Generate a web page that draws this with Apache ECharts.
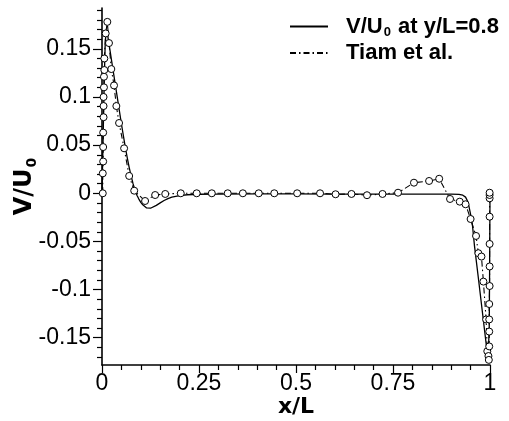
<!DOCTYPE html>
<html>
<head>
<meta charset="utf-8">
<script src="https://cdn.jsdelivr.net/npm/echarts@6/dist/echarts.min.js"></script>
<style>
  html, body { margin: 0; padding: 0; background: #fff; }
  #chart { width: 509px; height: 421px; }
</style>
</head>
<body>
<div id="chart"></div>
<script>
// Present computation: vertical velocity V/U0 along the line y/L = 0.8
const simX = [0, 0.002, 0.004, 0.006, 0.008, 0.010, 0.012, 0.015, 0.020, 0.025, 0.030, 0.035, 0.040,
  0.045, 0.050, 0.055, 0.060, 0.065, 0.070, 0.075, 0.080, 0.085, 0.090, 0.095, 0.100, 0.105, 0.110,
  0.115, 0.120, 0.125, 0.130, 0.140, 0.150, 0.160, 0.170, 0.180, 0.200, 0.220, 0.250, 0.300, 0.400,
  0.500, 0.600, 0.700, 0.800, 0.900, 0.920, 0.930, 0.937, 0.942, 0.946, 0.950, 0.955, 0.960, 0.970,
  0.980, 0.990, 0.993, 0.995, 0.997, 0.998, 0.999, 1.000];
const simV = [0, 0.040, 0.080, 0.120, 0.152, 0.166, 0.169, 0.163, 0.150, 0.137, 0.124, 0.111, 0.098,
  0.085, 0.072, 0.060, 0.048, 0.037, 0.027, 0.018, 0.010, 0.003, -0.002, -0.006, -0.0095, -0.012, -0.014,
  -0.0152, -0.0157, -0.0155, -0.0148, -0.0125, -0.010, -0.0075, -0.0055, -0.004, -0.0025, -0.0015, -0.001, -0.0008, -0.0007,
  -0.0007, -0.0008, -0.0008, -0.0008, -0.0009, -0.0012, -0.002, -0.004, -0.008, -0.014, -0.022, -0.034, -0.0546, -0.088,
  -0.122, -0.156, -0.166, -0.172, -0.170, -0.140, -0.080, 0];

// Reference data of Tiam et al.
const tiamX = [0.002, 0.002, 0.003, 0.003, 0.003, 0.004, 0.004, 0.004, 0.005, 0.005, 0.006, 0.006, 0.0095,
  0.0137, 0.018, 0.024, 0.031, 0.037, 0.044, 0.057, 0.070, 0.083, 0.111, 0.137, 0.163, 0.203, 0.244,
  0.283, 0.324, 0.363, 0.404, 0.444, 0.503, 0.562, 0.602, 0.643, 0.683, 0.723, 0.763, 0.804, 0.843,
  0.869, 0.897, 0.922, 0.937, 0.950, 0.964, 0.970, 0.978, 0.983, 0.990, 0.993, 0.996, 0.997, 0.998,
  0.998, 0.998, 0.998, 0.999, 0.999, 0.999, 0.999, 0.999, 0.999, 0.999];
const tiamV = [0, 0.0207, 0.033, 0.048, 0.063, 0.079, 0.0906, 0.100, 0.110, 0.121, 0.128, 0.140, 0.166,
  0.178, 0.156, 0.129, 0.112, 0.0906, 0.073, 0.0467, 0.018, 0.0027, -0.008, -0.0018, -0.0007, 0, 0,
  0, 0, 0, 0, 0, 0, 0, -0.001, -0.0007, -0.002, -0.0007, 0.0006, 0.011, 0.0128,
  0.0151, -0.0059, -0.0087, -0.0114, -0.0267, -0.0443, -0.0622, -0.0657, -0.0917, -0.131, -0.164, -0.169, -0.173, -0.159,
  -0.1436, -0.131, -0.115, -0.0963, -0.076, -0.0526, -0.0243, -0.0052, -0.0018, 0.0006];

// Axis ticks
const xTicks = [0, 0.25, 0.5, 0.75, 1];
const xTickLabels = ['0', '0.25', '0.5', '0.75', '1'];
const yTicks = [-0.15, -0.1, -0.05, 0, 0.05, 0.1, 0.15];
const yTickLabels = ['-0.15', '-0.1', '-0.05', '0', '0.05', '0.1', '0.15'];
const yMinorTicks = [-0.17, -0.16, -0.14, -0.13, -0.12, -0.11, -0.09, -0.08, -0.07, -0.06, -0.04, -0.03,
  -0.02, -0.01, 0.01, 0.02, 0.03, 0.04, 0.06, 0.07, 0.08, 0.09, 0.11, 0.12, 0.13, 0.14, 0.16, 0.17, 0.18, 0.19];

const seriesNames = ['sim', 'tiam'];

const pairs = (xs, vs) => xs.map((x, i) => [x, vs[i]]);
const labelFor = (ticks, labels) => (v) => {
  const i = ticks.findIndex(t => Math.abs(t - v) < 1e-9);
  return i >= 0 ? labels[i] : '';
};

const tickFont = 'Liberation Sans, Arial, Helvetica, sans-serif';
const titleFont = 'DejaVu Sans, sans-serif';
const yRange = { min: -0.1783, max: 0.1924 };

const chart = echarts.init(document.getElementById('chart'), null, { renderer: 'canvas' });
chart.setOption({
  animation: false,
  backgroundColor: '#fff',
  grid: { left: 102, right: 19, top: 8, bottom: 56, containLabel: false, outerBoundsMode: 'none' },
  legend: {
    orient: 'vertical',
    left: 289,
    top: 14,
    padding: 0,
    itemGap: 3,
    itemWidth: 38,
    itemHeight: 14,
    selectedMode: false,
    data: [
      { name: 'sim', itemStyle: { opacity: 0 } },
      { name: 'tiam', itemStyle: { opacity: 0 } }
    ],
    formatter: (name) => name === 'sim'
      ? '{a|V/U}{s|0}{a| at y/L=0.8}'
      : '{a|Tiam et al.}',
    textStyle: {
      padding: [0, 0, 0, 13],
      rich: {
        a: { fontFamily: tickFont, fontWeight: 'bold', fontSize: 22, color: '#000', lineHeight: 22 },
        s: { fontFamily: tickFont, fontWeight: 'bold', fontSize: 13, color: '#000', lineHeight: 22, padding: [12, 1, 0, 1] }
      }
    }
  },
  xAxis: {
    type: 'value',
    min: 0, max: 1, interval: 0.25,
    name: 'x/L',
    nameLocation: 'middle',
    nameGap: 31,
    nameMoveOverlap: false,
    nameTextStyle: { fontFamily: titleFont, fontWeight: 'bold', fontSize: 22, color: '#000' },
    axisLine: { show: true, onZero: false, lineStyle: { color: '#000', width: 1.6 } },
    axisTick: { show: true, length: 8, lineStyle: { color: '#000', width: 1.2 } },
    minorTick: { show: true, splitNumber: 5, length: 5, lineStyle: { color: '#000', width: 1.2 } },
    axisLabel: { fontFamily: tickFont, fontSize: 23, color: '#000', margin: 7, formatter: labelFor(xTicks, xTickLabels) },
    splitLine: { show: false },
    minorSplitLine: { show: false }
  },
  yAxis: [
    {
      type: 'value',
      min: yRange.min, max: yRange.max,
      name: '{a|V/U}{s|0}',
      nameLocation: 'middle',
      nameGap: 64,
      nameMoveOverlap: false,
      nameTextStyle: {
        rich: {
          a: { fontFamily: titleFont, fontWeight: 'bold', fontSize: 24, color: '#000', lineHeight: 26 },
          s: { fontFamily: titleFont, fontWeight: 'bold', fontSize: 14, color: '#000', lineHeight: 26, padding: [14, 0, 0, 1] }
        }
      },
      axisLine: { show: true, onZero: false, lineStyle: { color: '#000', width: 1.6 } },
      axisTick: { show: true, length: 9, customValues: yTicks, lineStyle: { color: '#000', width: 1.2 } },
      axisLabel: { fontFamily: tickFont, fontSize: 23, color: '#000', margin: 11, customValues: yTicks, formatter: labelFor(yTicks, yTickLabels) },
      splitLine: { show: false }
    },
    {
      type: 'value',
      min: yRange.min, max: yRange.max,
      position: 'left',
      axisLine: { show: false },
      axisTick: { show: true, length: 5, customValues: yMinorTicks, lineStyle: { color: '#000', width: 1.2 } },
      axisLabel: { show: false },
      splitLine: { show: false }
    }
  ],
  series: [
    {
      name: seriesNames[0],
      type: 'line',
      data: pairs(simX, simV),
      symbol: 'none',
      lineStyle: { color: '#000', width: 1.3 },
      itemStyle: { color: '#000' },
      z: 2
    },
    {
      name: seriesNames[1],
      type: 'line',
      data: pairs(tiamX, tiamV),
      symbol: 'circle',
      symbolSize: 7,
      lineStyle: { color: '#000', width: 1.1, type: [6, 3, 1.5, 3] },
      itemStyle: { color: '#fff', borderColor: '#000', borderWidth: 1 },
      z: 3
    }
  ]
});
</script>
</body>
</html>
